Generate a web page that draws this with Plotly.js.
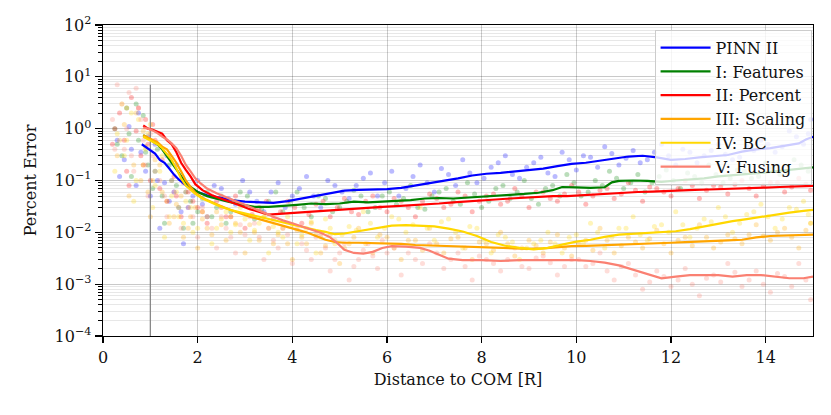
<!DOCTYPE html>
<html>
<head>
<meta charset="utf-8">
<script src="https://cdn.plot.ly/plotly-3.0.1.min.js"></script>
<style>html,body{margin:0;padding:0;background:#fff;}#chart{width:831px;height:415px;}</style>
</head>
<body>
<div id="chart"></div>
<script>
// ---------- data ----------
const seriesNames = ["PINN II", "I: Features", "II: Percent", "III: Scaling", "IV: BC", "V: Fusing"];

// moving-average lines
const pinnX = [0.82,0.9,1.0,1.1,1.2,1.3,1.4,1.5,1.6,1.7,1.8,1.9,2.0,2.2,2.4,2.6,2.8,3.0,3.3,3.6,3.9,4.2,4.5,4.8,5.1,5.4,5.7,6.0,6.3,6.6,6.9,7.2,7.5,7.8,8.1,8.4,8.7,9.0,9.3,9.6,9.9,10.2,10.5,10.8,11.1,11.4,11.7,12.0,12.3,12.6,12.9,13.2,13.5,13.8,14.1,14.4,14.7,14.85,15.0];
const pinnY = [0.50,0.44,0.39,0.33,0.25,0.22,0.17,0.13,0.105,0.09,0.075,0.068,0.06,0.052,0.048,0.044,0.041,0.039,0.038,0.037,0.040,0.045,0.050,0.058,0.064,0.066,0.067,0.068,0.072,0.08,0.088,0.098,0.11,0.125,0.135,0.14,0.15,0.16,0.17,0.19,0.21,0.22,0.24,0.27,0.29,0.30,0.28,0.25,0.26,0.28,0.29,0.31,0.36,0.40,0.42,0.46,0.52,0.62,0.70];

const featX = [0.85,0.95,1.05,1.15,1.25,1.35,1.45,1.55,1.65,1.75,1.85,2.0,2.2,2.4,2.6,2.8,3.0,3.2,3.5,3.8,4.1,4.4,4.7,5.0,5.3,5.6,5.9,6.2,6.5,6.8,7.1,7.4,7.7,8.0,8.3,8.6,8.9,9.2,9.5,9.7,10.0,10.3,10.6,10.75,10.9,11.2,11.5,11.8,12.1,12.4,12.7,13.0,13.3,13.6,13.9,14.2,14.5,14.8,15.0];
const featY = [0.75,0.65,0.58,0.50,0.40,0.30,0.22,0.16,0.12,0.09,0.075,0.06,0.05,0.044,0.04,0.036,0.033,0.031,0.031,0.032,0.034,0.036,0.035,0.036,0.039,0.038,0.039,0.040,0.042,0.045,0.046,0.045,0.047,0.050,0.051,0.053,0.055,0.058,0.065,0.075,0.074,0.072,0.074,0.092,0.098,0.10,0.098,0.094,0.10,0.105,0.11,0.12,0.125,0.13,0.14,0.15,0.16,0.17,0.18];

const pctX = [0.85,0.95,1.05,1.15,1.25,1.35,1.45,1.55,1.65,1.75,1.85,1.95,2.1,2.3,2.5,2.7,2.9,3.1,3.3,3.5,3.8,4.1,4.4,4.7,5.0,5.3,5.6,5.9,6.2,6.5,6.8,7.1,7.4,7.7,8.0,8.3,8.6,8.9,9.2,9.5,9.8,10.1,10.4,10.7,11.0,11.3,11.6,11.9,12.2,12.5,12.8,13.1,13.4,13.7,14.0,14.3,14.6,15.0];
const pctY = [1.15,1.0,0.95,0.88,0.80,0.60,0.50,0.35,0.22,0.16,0.12,0.085,0.065,0.052,0.045,0.038,0.033,0.028,0.025,0.022,0.023,0.024,0.025,0.026,0.028,0.029,0.030,0.031,0.032,0.033,0.035,0.036,0.038,0.040,0.042,0.043,0.045,0.047,0.048,0.050,0.050,0.052,0.054,0.056,0.058,0.060,0.061,0.063,0.065,0.066,0.067,0.068,0.070,0.071,0.073,0.075,0.076,0.079];

const scalX = [0.85,0.95,1.05,1.15,1.25,1.35,1.45,1.55,1.65,1.75,1.85,1.95,2.1,2.3,2.5,2.7,2.9,3.1,3.3,3.5,3.7,3.9,4.1,4.3,4.5,4.7,4.9,5.1,5.4,5.7,6.0,6.3,6.6,6.9,7.2,7.5,7.8,8.1,8.4,8.7,9.0,9.3,9.6,9.9,10.2,10.5,10.8,11.1,11.4,11.7,12.0,12.3,12.6,12.9,13.2,13.5,13.8,14.1,14.4,14.7,15.0];
const scalY = [0.75,0.68,0.62,0.55,0.45,0.40,0.30,0.22,0.15,0.10,0.075,0.058,0.046,0.038,0.032,0.027,0.023,0.020,0.018,0.016,0.0145,0.013,0.0115,0.0100,0.0085,0.0072,0.0065,0.0063,0.0063,0.0062,0.0061,0.006,0.0057,0.0056,0.0055,0.0054,0.0053,0.0052,0.005,0.0049,0.0048,0.0049,0.0052,0.0054,0.0055,0.0056,0.0057,0.0059,0.0061,0.0062,0.0063,0.0065,0.0066,0.0068,0.0070,0.0072,0.0080,0.0085,0.0086,0.0088,0.009];

const bcX = [0.85,0.95,1.05,1.15,1.25,1.35,1.45,1.55,1.65,1.75,1.85,1.95,2.1,2.3,2.5,2.7,2.9,3.1,3.3,3.5,3.7,3.9,4.1,4.3,4.5,4.7,4.9,5.1,5.3,5.5,5.8,6.1,6.4,6.7,7.0,7.3,7.6,7.9,8.2,8.5,8.8,9.1,9.4,9.7,10.0,10.3,10.6,10.9,11.2,11.5,11.8,12.1,12.4,12.7,13.0,13.3,13.6,13.9,14.2,14.5,14.8,15.0];
const bcY = [0.70,0.62,0.56,0.50,0.42,0.33,0.25,0.17,0.11,0.08,0.065,0.055,0.045,0.037,0.031,0.027,0.024,0.022,0.020,0.018,0.0165,0.015,0.0135,0.012,0.011,0.0102,0.0092,0.0095,0.0102,0.011,0.0125,0.0135,0.0138,0.0136,0.013,0.0118,0.0104,0.0085,0.0065,0.0055,0.005,0.0047,0.005,0.0058,0.0066,0.0072,0.0082,0.009,0.0094,0.0097,0.010,0.0105,0.0115,0.013,0.015,0.0165,0.018,0.020,0.022,0.024,0.026,0.027];

const fuseX = [0.85,0.95,1.05,1.15,1.25,1.35,1.45,1.55,1.65,1.75,1.85,1.95,2.05,2.2,2.4,2.6,2.8,3.0,3.2,3.4,3.6,3.8,4.0,4.2,4.4,4.6,4.8,4.95,5.1,5.3,5.5,5.7,5.9,6.1,6.4,6.7,6.9,7.1,7.3,7.6,8.0,8.4,8.8,9.2,9.6,10.0,10.3,10.6,10.9,11.2,11.5,11.8,12.1,12.4,12.7,13.0,13.3,13.6,13.9,14.2,14.5,14.8,15.0];
const fuseY = [1.05,1.0,0.92,0.82,0.70,0.62,0.52,0.42,0.30,0.20,0.15,0.11,0.09,0.07,0.057,0.047,0.04,0.034,0.029,0.024,0.020,0.017,0.015,0.013,0.0115,0.0098,0.008,0.0062,0.0046,0.004,0.0039,0.0042,0.0050,0.0054,0.0053,0.0050,0.0044,0.0037,0.0031,0.0029,0.0029,0.0028,0.0029,0.0029,0.0029,0.0029,0.0028,0.0026,0.0023,0.0019,0.0016,0.0013,0.0014,0.0015,0.0015,0.0015,0.0014,0.0015,0.0015,0.0014,0.0013,0.0013,0.0014];

// individual sample errors (scatter), two batches per model
const pinnPtsX = [0.3,0.45,0.55,0.7,0.8,0.9,1.0,1.1,1.2,1.3,1.4,1.55,1.7,1.8,2.0,2.2,2.5,2.8,3.1,3.4,3.7,4.0,4.3,4.6,4.9,5.2,5.5,5.8,6.1,6.4,6.7,7.0,7.3,7.6,7.9,8.2,8.5,8.8,9.1,9.4,9.7,10.0,10.3,10.6,10.9,11.2,11.5,11.8,12.1,12.4,12.7,13.0,13.3,13.6,13.9,14.2,14.5,14.8,14.95];
const pinnPtsY = [0.6,0.25,1.1,0.08,0.35,0.15,0.05,0.5,0.012,0.09,0.04,0.2,0.006,0.03,0.1,0.02,0.07,0.035,0.06,0.025,0.09,0.05,0.12,0.03,0.08,0.045,0.11,0.05,0.15,0.07,0.2,0.06,0.13,0.25,0.09,0.18,0.3,0.11,0.22,0.14,0.35,0.16,0.28,0.45,0.2,0.38,0.25,0.5,0.2,0.35,0.3,0.5,0.25,0.45,0.6,0.35,0.9,0.5,1.5];
const pinnPts2X = [0.35,0.6,0.75,0.95,1.15,1.35,1.5,1.65,1.9,2.1,2.35,2.65,2.95,3.25,3.55,3.85,4.15,4.45,4.75,5.05,5.35,5.65,5.95,6.25,6.55,6.85,7.15,7.45,7.75,8.05,8.35,8.65,8.95,9.25,9.55,9.85,10.15,10.45,10.75,11.05,11.35,11.65,11.95,12.25,12.55,12.85,13.15,13.45,13.75,14.05,14.35,14.65,14.9];
const pinnPts2Y = [0.12,0.4,2.0,0.7,0.1,0.3,0.06,0.025,0.05,0.035,0.08,0.045,0.1,0.04,0.06,0.03,0.07,0.05,0.1,0.06,0.08,0.14,0.09,0.05,0.12,0.09,0.17,0.08,0.14,0.11,0.22,0.13,0.18,0.28,0.12,0.25,0.3,0.18,0.33,0.27,0.22,0.35,0.3,0.4,0.22,0.38,0.32,0.28,0.38,0.5,0.45,0.7,0.8];

const featPtsX = [0.25,0.4,0.5,0.6,0.75,0.85,0.95,1.05,1.15,1.3,1.45,1.6,1.75,1.9,2.1,2.3,2.5,2.7,2.9,3.2,3.5,3.8,4.1,4.4,4.7,5.0,5.3,5.6,5.9,6.2,6.5,6.8,7.1,7.4,7.7,8.0,8.3,8.6,8.9,9.2,9.5,9.8,10.1,10.4,10.7,11.0,11.3,11.6,11.9,12.2,12.5,12.8,13.1,13.4,13.7,14.0,14.3,14.6,14.9];
const featPtsY = [1.0,0.3,2.5,0.12,0.6,1.8,0.2,0.07,0.4,0.015,0.1,0.03,0.06,0.015,0.045,0.02,0.05,0.025,0.06,0.018,0.04,0.025,0.06,0.02,0.045,0.03,0.065,0.025,0.05,0.035,0.08,0.028,0.06,0.04,0.09,0.03,0.07,0.045,0.1,0.035,0.08,0.13,0.05,0.1,0.15,0.07,0.13,0.09,0.16,0.07,0.12,0.2,0.09,0.16,0.11,0.22,0.13,0.25,0.15];
const featPts2X = [0.3,0.55,0.7,0.9,1.1,1.25,1.4,1.55,1.7,1.85,2.0,2.2,2.4,2.6,2.8,3.05,3.35,3.65,3.95,4.25,4.55,4.85,5.15,5.45,5.75,6.05,6.35,6.65,6.95,7.25,7.55,7.85,8.15,8.45,8.75,9.05,9.35,9.65,9.95,10.25,10.55,10.85,11.15,11.45,11.75,12.05,12.35,12.65,12.95,13.25,13.55,13.85,14.15,14.45,14.75];
const featPts2Y = [0.5,0.8,3.0,0.35,0.15,0.05,0.2,0.08,0.012,0.04,0.025,0.06,0.03,0.015,0.04,0.05,0.028,0.06,0.04,0.03,0.05,0.025,0.04,0.05,0.03,0.06,0.045,0.03,0.05,0.07,0.035,0.055,0.04,0.08,0.06,0.045,0.07,0.05,0.09,0.06,0.08,0.11,0.09,0.06,0.12,0.1,0.14,0.09,0.13,0.11,0.15,0.12,0.17,0.14,0.2];

const pctPtsX = [0.2,0.35,0.5,0.6,0.7,0.8,0.9,1.0,1.1,1.25,1.35,1.5,1.65,1.8,2.0,2.2,2.4,2.6,2.8,3.0,3.3,3.6,3.9,4.2,4.5,4.8,5.1,5.4,5.7,6.0,6.3,6.6,6.9,7.2,7.5,7.8,8.1,8.4,8.7,9.0,9.3,9.6,9.9,10.2,10.5,10.8,11.1,11.4,11.7,12.0,12.3,12.6,12.9,13.2,13.5,13.8,14.1,14.4,14.7,14.95];
const pctPtsY = [0.5,2.0,0.15,4.0,0.9,0.3,1.5,0.1,0.6,0.25,0.04,0.12,0.02,0.06,0.03,0.015,0.04,0.02,0.05,0.012,0.03,0.018,0.04,0.015,0.035,0.02,0.045,0.022,0.05,0.025,0.04,0.02,0.055,0.03,0.06,0.025,0.05,0.035,0.07,0.03,0.06,0.04,0.08,0.035,0.065,0.045,0.09,0.04,0.07,0.05,0.1,0.045,0.08,0.055,0.1,0.05,0.09,0.06,0.11,0.065];
const pctPts2X = [0.25,0.45,0.55,0.75,0.85,0.95,1.05,1.2,1.4,1.55,1.7,1.9,2.1,2.3,2.5,2.7,2.9,3.15,3.45,3.75,4.05,4.35,4.65,4.95,5.25,5.55,5.85,6.15,6.45,6.75,7.05,7.35,7.65,7.95,8.25,8.55,8.85,9.15,9.45,9.75,10.05,10.35,10.65,10.95,11.25,11.55,11.85,12.15,12.45,12.75,13.05,13.35,13.65,13.95,14.25,14.55,14.85];
const pctPts2Y = [1.0,0.6,0.08,2.5,0.2,0.5,1.2,0.07,0.3,0.05,0.09,0.04,0.025,0.05,0.03,0.02,0.035,0.022,0.04,0.025,0.03,0.022,0.04,0.03,0.025,0.04,0.03,0.045,0.03,0.04,0.045,0.035,0.05,0.04,0.055,0.04,0.05,0.06,0.045,0.055,0.06,0.05,0.07,0.055,0.065,0.075,0.06,0.07,0.08,0.065,0.075,0.085,0.07,0.08,0.09,0.075,0.085];

const scalPtsX = [0.3,0.45,0.55,0.7,0.8,0.9,1.0,1.1,1.25,1.4,1.55,1.7,1.85,2.0,2.2,2.4,2.6,2.8,3.0,3.2,3.4,3.6,3.8,4.0,4.2,4.4,4.6,4.8,5.0,5.2,5.4,5.7,6.0,6.3,6.6,6.9,7.2,7.5,7.8,8.1,8.4,8.7,9.0,9.3,9.6,9.9,10.2,10.5,10.8,11.1,11.4,11.7,12.0,12.3,12.6,12.9,13.2,13.5,13.8,14.1,14.4,14.7,14.95];
const scalPtsY = [0.3,1.2,0.05,2.0,0.1,0.45,0.02,0.25,0.06,0.015,0.035,0.008,0.02,0.005,0.012,0.025,0.007,0.015,0.004,0.01,0.02,0.006,0.012,0.003,0.008,0.015,0.004,0.009,0.0025,0.006,0.012,0.004,0.008,0.003,0.007,0.012,0.004,0.008,0.003,0.006,0.01,0.0035,0.007,0.004,0.009,0.0035,0.007,0.012,0.004,0.008,0.005,0.011,0.004,0.008,0.014,0.005,0.009,0.006,0.014,0.007,0.012,0.005,0.015];
const scalPts2X = [0.35,0.5,0.65,0.85,0.95,1.05,1.2,1.35,1.5,1.65,1.8,1.95,2.1,2.3,2.5,2.7,2.9,3.1,3.3,3.5,3.7,3.9,4.1,4.3,4.5,4.7,4.9,5.1,5.3,5.55,5.85,6.15,6.45,6.75,7.05,7.35,7.65,7.95,8.25,8.55,8.85,9.15,9.45,9.75,10.05,10.35,10.65,10.95,11.25,11.55,11.85,12.15,12.45,12.75,13.05,13.35,13.65,13.95,14.25,14.55,14.85];
const scalPts2Y = [0.6,2.5,0.2,0.9,0.06,0.1,0.2,0.04,0.02,0.05,0.012,0.03,0.018,0.009,0.014,0.02,0.01,0.014,0.007,0.012,0.009,0.006,0.011,0.006,0.009,0.0055,0.007,0.005,0.008,0.006,0.009,0.005,0.007,0.0045,0.006,0.0075,0.005,0.0065,0.0045,0.006,0.005,0.0055,0.0065,0.005,0.006,0.0045,0.007,0.0055,0.0065,0.0075,0.006,0.007,0.0055,0.008,0.0065,0.0075,0.009,0.0085,0.01,0.008,0.011];

const bcPtsX = [0.25,0.4,0.5,0.65,0.75,0.85,0.95,1.05,1.2,1.3,1.45,1.6,1.75,1.9,2.1,2.3,2.5,2.7,2.9,3.1,3.3,3.5,3.7,3.9,4.1,4.3,4.5,4.7,4.9,5.2,5.5,5.8,6.1,6.4,6.7,7.0,7.3,7.6,7.9,8.2,8.5,8.8,9.1,9.4,9.7,10.0,10.3,10.6,10.9,11.2,11.5,11.8,12.1,12.4,12.7,13.0,13.3,13.6,13.9,14.2,14.5,14.8,14.95];
const bcPtsY = [0.15,3.0,0.6,0.04,1.5,0.2,0.8,0.03,0.15,0.008,0.05,0.02,0.04,0.01,0.025,0.006,0.018,0.01,0.03,0.007,0.015,0.004,0.01,0.02,0.006,0.012,0.004,0.018,0.006,0.013,0.025,0.008,0.02,0.01,0.03,0.007,0.018,0.005,0.012,0.004,0.008,0.003,0.006,0.01,0.004,0.009,0.015,0.005,0.012,0.02,0.007,0.014,0.025,0.008,0.018,0.03,0.01,0.022,0.035,0.012,0.03,0.04,0.015];
const bcPts2X = [0.3,0.45,0.6,0.7,0.9,1.0,1.1,1.25,1.4,1.55,1.7,1.85,2.0,2.2,2.4,2.6,2.8,3.0,3.2,3.4,3.6,3.8,4.0,4.2,4.4,4.6,4.8,5.05,5.35,5.65,5.95,6.25,6.55,6.85,7.15,7.45,7.75,8.05,8.35,8.65,8.95,9.25,9.55,9.85,10.15,10.45,10.75,11.05,11.35,11.65,11.95,12.25,12.55,12.85,13.15,13.45,13.75,14.05,14.35,14.65,14.9];
const bcPts2Y = [0.8,0.3,2.0,0.1,0.4,1.2,0.08,0.3,0.02,0.06,0.015,0.03,0.012,0.02,0.012,0.025,0.014,0.018,0.011,0.02,0.013,0.008,0.014,0.009,0.016,0.008,0.012,0.009,0.011,0.015,0.012,0.018,0.014,0.012,0.016,0.01,0.013,0.007,0.009,0.0065,0.005,0.007,0.006,0.008,0.006,0.01,0.008,0.012,0.009,0.013,0.01,0.014,0.012,0.016,0.02,0.015,0.025,0.02,0.018,0.028,0.022];

const fusePtsX = [0.2,0.3,0.45,0.55,0.65,0.75,0.85,0.95,1.05,1.2,1.35,1.5,1.65,1.8,2.0,2.2,2.4,2.6,2.8,3.0,3.2,3.4,3.6,3.8,4.0,4.2,4.4,4.6,4.8,5.0,5.2,5.4,5.6,5.8,6.0,6.3,6.6,6.9,7.2,7.5,7.8,8.1,8.4,8.7,9.0,9.3,9.6,9.9,10.2,10.5,10.8,11.1,11.4,11.7,12.0,12.3,12.6,12.9,13.2,13.5,13.8,14.1,14.4,14.7,14.95];
const fusePtsY = [1.5,7.0,0.4,5.0,0.15,2.5,0.6,0.05,0.3,0.1,0.02,0.06,0.012,0.03,0.008,0.02,0.005,0.012,0.004,0.009,0.015,0.003,0.007,0.012,0.0025,0.006,0.003,0.009,0.0018,0.004,0.0012,0.003,0.006,0.002,0.004,0.0015,0.003,0.006,0.002,0.004,0.0012,0.003,0.0018,0.005,0.002,0.0035,0.0015,0.003,0.0022,0.004,0.0012,0.0025,0.0008,0.0018,0.0009,0.002,0.0006,0.0015,0.0025,0.0009,0.0018,0.0007,0.0014,0.0025,0.0005];
const fusePts2X = [0.25,0.4,0.5,0.6,0.7,0.8,0.9,1.0,1.1,1.3,1.45,1.6,1.75,1.9,2.1,2.3,2.5,2.7,2.9,3.1,3.3,3.5,3.7,3.9,4.1,4.3,4.5,4.7,4.9,5.1,5.3,5.5,5.7,5.9,6.15,6.45,6.75,7.05,7.35,7.65,7.95,8.25,8.55,8.85,9.15,9.45,9.75,10.05,10.35,10.65,10.95,11.25,11.55,11.85,12.15,12.45,12.75,13.05,13.35,13.65,13.95,14.25,14.55,14.85];
const fusePts2Y = [0.4,3.0,1.0,0.3,6.0,1.5,0.2,0.8,0.15,0.05,0.1,0.03,0.06,0.02,0.03,0.012,0.02,0.008,0.014,0.02,0.008,0.012,0.005,0.009,0.012,0.0045,0.008,0.005,0.003,0.006,0.0022,0.0045,0.0035,0.007,0.005,0.004,0.0025,0.004,0.003,0.0022,0.0035,0.0025,0.003,0.0022,0.0032,0.0026,0.0022,0.003,0.0025,0.0018,0.0022,0.0015,0.0011,0.0014,0.0012,0.001,0.0013,0.0011,0.0017,0.0012,0.001,0.0016,0.0009,0.0012];

// surface radius marker
const surfaceX = [1, 1];
const surfaceY = [1e-4, 7];

// tick labels
const xTicks = [0, 2, 4, 6, 8, 10, 12, 14];
const yTickVals = [1e-4, 1e-3, 1e-2, 1e-1, 1e0, 1e1, 1e2];
const yTickExp = ["\u22124", "\u22123", "\u22122", "\u22121", "0", "1", "2"];

// ---------- styling ----------
const colors = ["#0000ff", "#008000", "#ff0000", "#ffa500", "#ffd700", "#fa8072"];
const lineX = [pinnX, featX, pctX, scalX, bcX, fuseX];
const lineY = [pinnY, featY, pctY, scalY, bcY, fuseY];
const ptsX = [pinnPtsX.concat(pinnPts2X), featPtsX.concat(featPts2X), pctPtsX.concat(pctPts2X),
              scalPtsX.concat(scalPts2X), bcPtsX.concat(bcPts2X), fusePtsX.concat(fusePts2X)];
const ptsY = [pinnPtsY.concat(pinnPts2Y), featPtsY.concat(featPts2Y), pctPtsY.concat(pctPts2Y),
              scalPtsY.concat(scalPts2Y), bcPtsY.concat(bcPts2Y), fusePtsY.concat(fusePts2Y)];
const yTickText = yTickExp.map(e => "10<sup>" + e + "</sup>");

const minorVals = [];
for (let e = -4; e < 2; e++) for (let m = 2; m <= 9; m++) minorVals.push(m * Math.pow(10, e));

const traces = [];
for (let i = 0; i < 6; i++) {
  traces.push({
    x: ptsX[i], y: ptsY[i], type: "scatter", mode: "markers",
    marker: {color: colors[i], size: 5, opacity: 0.27, line: {width: 0}},
    showlegend: false, hoverinfo: "skip"
  });
}
traces.push({
  x: surfaceX, y: surfaceY, type: "scatter", mode: "lines",
  line: {color: "#808080", width: 1.2}, showlegend: false, hoverinfo: "skip"
});
for (let i = 0; i < 6; i++) {
  traces.push({
    x: lineX[i], y: lineY[i], type: "scatter", mode: "lines", name: seriesNames[i],
    legendgroup: "g" + i,
    line: {color: colors[i], width: 2.2}, hoverinfo: "skip"
  });
}

const font = "DejaVu Serif, Liberation Serif, serif";
const fs = 16;
const layout = {
  width: 831, height: 415,
  margin: {l: 103, r: 18, t: 25, b: 79},
  paper_bgcolor: "#fff", plot_bgcolor: "#fff",
  font: {family: font, size: fs, color: "#111"},
  showlegend: true,
  legend: {
    x: 0.998, xanchor: "right", y: 0.985, yanchor: "top",
    bgcolor: "rgba(255,255,255,0.8)", bordercolor: "#cccccc", borderwidth: 1,
    font: {family: font, size: fs, color: "#111"},
    tracegroupgap: 0, itemwidth: 50
  },
  xaxis: {
    range: [0, 15], tickvals: xTicks, ticks: "outside", ticklen: 6, tickwidth: 1.2, tickcolor: "#000",
    showline: true, mirror: true, linecolor: "#000", linewidth: 1.4,
    showgrid: true, gridcolor: "rgba(0,0,0,0.28)", gridwidth: 0.7, zeroline: false,
    tickfont: {family: font, size: fs},
    title: {text: "Distance to COM [R]", font: {family: font, size: fs}, standoff: 8}
  },
  yaxis: {
    type: "log", range: [-4, 2], tickvals: yTickVals, ticktext: yTickText,
    ticks: "outside", ticklen: 7, tickwidth: 1.2, tickcolor: "#000",
    showline: true, mirror: true, linecolor: "#000", linewidth: 1.4,
    showgrid: true, gridcolor: "rgba(0,0,0,0.3)", gridwidth: 0.7, zeroline: false,
    tickfont: {family: font, size: fs},
    minor: {tickmode: "array", tickvals: minorVals, ticks: "outside", ticklen: 4, tickwidth: 1, tickcolor: "#000",
            showgrid: true, gridcolor: "rgba(0,0,0,0.16)", gridwidth: 0.6},
    title: {text: "Percent Error", font: {family: font, size: fs}, standoff: 14}
  }
};

Plotly.newPlot("chart", traces, layout, {displayModeBar: false, staticPlot: true});
</script>
</body>
</html>
